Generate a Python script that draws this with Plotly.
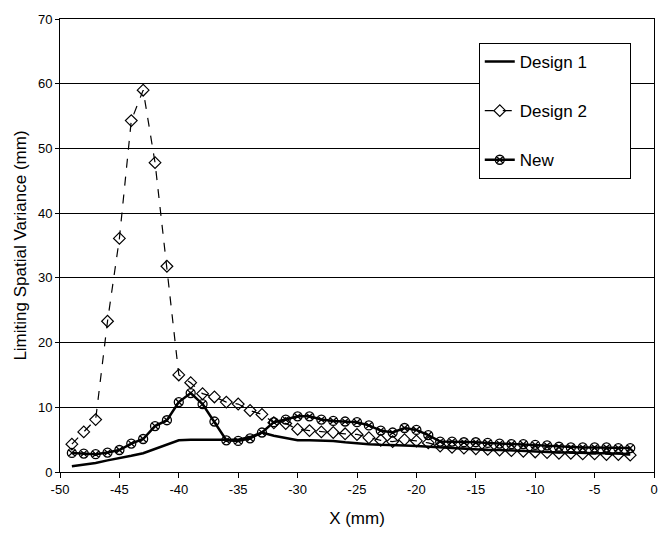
import plotly.graph_objects as go

# Position along the probe (mm)
x_mm = list(range(-49, -1))

design1 = [0.9, 1.1, 1.4, 1.8, 2.1, 2.5, 2.9, 3.6, 4.3, 4.9,
           5.0, 5.0, 4.9, 4.9, 5.0, 5.4, 6.1, 5.6, 5.2, 4.9,
           4.9, 4.9, 4.8, 4.6, 4.4, 4.3, 4.2, 4.2, 4.1, 4.0,
           3.9, 3.7, 3.6, 3.6, 3.5, 3.4, 3.4, 3.3, 3.3, 3.2,
           3.1, 3.0, 3.0, 2.9, 2.9, 2.9, 2.8, 2.8]

design2 = [4.3, 6.2, 8.1, 23.3, 36.1, 54.3, 59.0, 47.8, 31.8, 15.0,
           13.8, 12.1, 11.6, 10.8, 10.5, 9.5, 8.9, 7.6, 7.5, 6.6,
           6.4, 6.2, 6.1, 5.9, 5.8, 5.3, 4.9, 4.7, 5.0, 4.8,
           4.5, 4.0, 3.8, 3.7, 3.6, 3.5, 3.4, 3.3, 3.2, 3.1,
           3.0, 2.9, 2.9, 2.8, 2.8, 2.7, 2.7, 2.6]

new = [2.95, 2.85, 2.75, 3.0, 3.4, 4.4, 5.1, 7.1, 8.0, 10.8,
       12.2, 10.5, 7.8, 4.9, 4.8, 5.2, 6.1, 7.7, 8.1, 8.6,
       8.6, 8.1, 7.9, 7.8, 7.7, 7.2, 6.4, 6.1, 6.8, 6.5,
       5.7, 4.7, 4.7, 4.6, 4.6, 4.5, 4.4, 4.3, 4.3, 4.2,
       4.1, 3.9, 3.8, 3.8, 3.8, 3.8, 3.7, 3.7]

x_ticks = list(range(-50, 1, 5))
y_ticks = list(range(0, 71, 10))

FONT = "Liberation Sans, Arial, sans-serif"
PAD = "\u00a0" * 8  # right padding inside the legend box

fig = go.Figure()

fig.add_trace(go.Scatter(
    x=x_mm, y=design1, name="Design 1" + PAD, mode="lines",
    line=dict(color="black", width=2.5), legendgroup="d1"))

fig.add_trace(go.Scatter(
    x=x_mm, y=design2, name="Design 2" + PAD, mode="lines+markers",
    line=dict(color="black", width=1.2, dash="dash"),
    marker=dict(symbol="diamond-open", size=9, color="black",
                line=dict(width=1.2, color="black")),
    legendgroup="d2"))

fig.add_trace(go.Scatter(
    x=x_mm, y=new, name="New", mode="lines+markers",
    line=dict(color="black", width=2.5),
    marker=dict(symbol="circle-x-open", size=9, color="black",
                line=dict(width=1.3, color="black")),
    legendgroup="nw"))

fig.update_layout(
    width=670, height=537,
    margin=dict(l=60, r=12, t=18, b=65),
    paper_bgcolor="white", plot_bgcolor="white",
    font=dict(family=FONT, color="black", size=13),
    showlegend=True,
    legend=dict(
        x=0.705, y=0.947, xanchor="left", yanchor="top",
        bgcolor="white", bordercolor="black", borderwidth=1,
        font=dict(size=17, family=FONT),
        traceorder="grouped", tracegroupgap=24,
    ),
    xaxis=dict(
        range=[-50, 0], tickvals=x_ticks, ticktext=[str(v) for v in x_ticks],
        showgrid=False, zeroline=False,
        showline=True, linecolor="black", linewidth=1, mirror=True,
        ticks="outside", ticklen=5, tickcolor="black",
        tickfont=dict(size=13),
        title=dict(text="X (mm)", font=dict(size=17), standoff=16),
    ),
    yaxis=dict(
        range=[0, 70], tickvals=y_ticks,
        showgrid=True, gridcolor="black", gridwidth=1, zeroline=False,
        showline=True, linecolor="black", linewidth=1, mirror=True,
        ticks="outside", ticklen=4, tickcolor="black",
        tickfont=dict(size=13),
        title=dict(text="Limiting Spatial Variance (mm)", font=dict(size=17), standoff=6),
    ),
)

fig.write_html("out.html")
